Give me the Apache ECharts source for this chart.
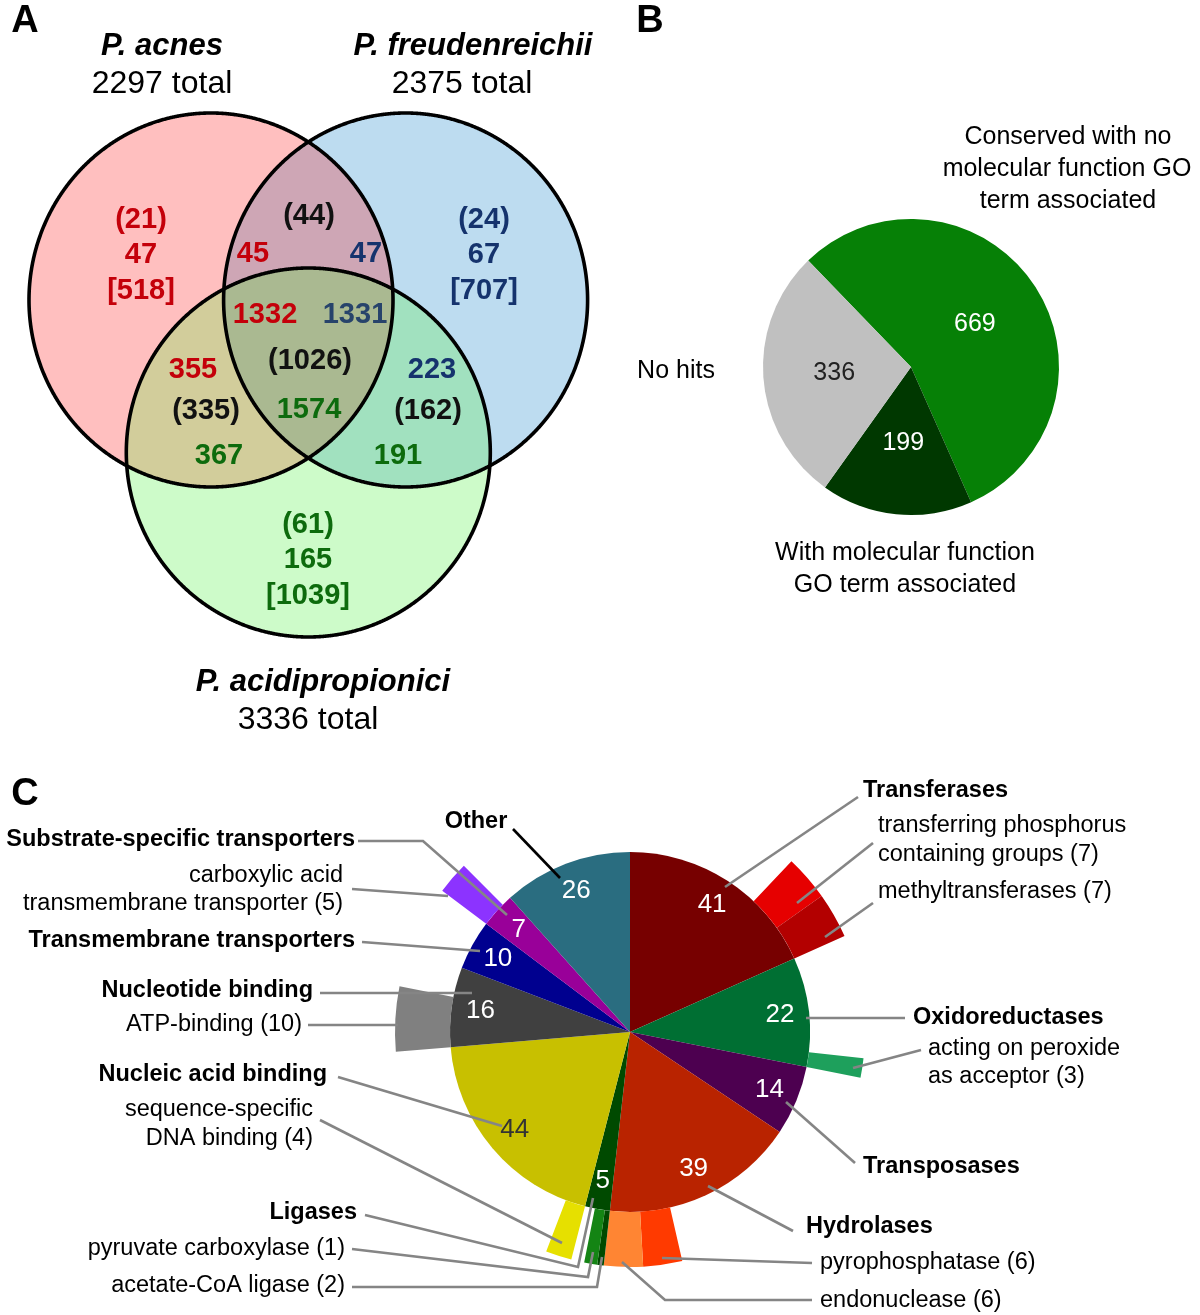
<!DOCTYPE html>
<html><head><meta charset="utf-8">
<script src="https://cdn.jsdelivr.net/npm/echarts@6/dist/echarts.min.js"></script>
<style>html,body{margin:0;padding:0;background:#fff}#c{width:1200px;height:1315px}</style>
</head><body><div id="c"></div>
<script>
// ===================== DATA =====================
// Panel A (Venn)
const vennSpecies = ['P. acnes', 'P. freudenreichii', 'P. acidipropionici'];
const vennTotals = [2297, 2375, 3336];
const onlyParen = [21, 24, 61];
const onlyCount = [47, 67, 165];
const onlyBracket = [518, 707, 1039];
// pairs: acnes∩freud, acnes∩acidi, freud∩acidi
const pairParen = [44, 335, 162];
const pairCountsAF = [45, 47];   // acnes, freud
const pairCountsAA = [355, 367]; // acnes, acidi
const pairCountsFA = [223, 191]; // freud, acidi
const coreParen = 1026;
const coreCounts = [1332, 1331, 1574]; // acnes, freud, acidi

// Panel B
const bCategories = ['Conserved with no molecular function GO term associated', 'With molecular function GO term associated', 'No hits'];
const bValues = [669, 199, 336];

// Panel C
const cCategories = ['Transferases', 'Oxidoreductases', 'Transposases', 'Hydrolases', 'Ligases',
  'Nucleic acid binding', 'Nucleotide binding', 'Transmembrane transporters', 'Substrate-specific transporters', 'Other'];
const cValues = [41, 22, 14, 39, 5, 44, 16, 10, 7, 26];
const subNames = ['transferring phosphorus containing groups', 'methyltransferases', 'acting on peroxide as acceptor',
  'pyrophosphatase', 'endonuclease', 'pyruvate carboxylase', 'acetate-CoA ligase',
  'sequence-specific DNA binding', 'ATP-binding', 'carboxylic acid transmembrane transporter'];
const subValues = [7, 7, 3, 6, 6, 1, 2, 4, 10, 5];
const subParents = ['Transferases', 'Transferases', 'Oxidoreductases', 'Hydrolases', 'Hydrolases', 'Ligases', 'Ligases',
  'Nucleic acid binding', 'Nucleotide binding', 'Substrate-specific transporters'];
const subAnchor = ['end', 'end', 'end', 'end', 'end', 'start', 'start', 'start', 'start', 'start'];

// ===================== STYLE / LAYOUT =====================
const FONT = '"Liberation Sans", Arial, Helvetica, sans-serif';
const RED = '#c4000a', NAVY = '#15336d', NAVY2 = '#27436b', GRN = '#0d6b0d', BLK = '#111';
const cColors = ['#770000', '#006f33', '#4d0050', '#b92300', '#004a00', '#c8c000', '#404040', '#00008f', '#990099', '#2a6d80'];
const cLabelColors = ['#fff', '#fff', '#fff', '#fff', '#fff', '#333', '#fff', '#fff', '#fff', '#fff'];
const subColors = ['#e60000', '#b30000', '#1ea05c', '#ff3a00', '#ff8533', '#004a00', '#148414', '#e6e000', '#808080', '#8c33ff'];
const bColors = ['#068006', '#003800', '#c0c0c0'];
const bLabelColors = ['#fff', '#fff', '#222'];

const ovals = [
  { x: 211, y: 300, rx: 182, ry: 187, fill: '#ffbfbf' },
  { x: 405.6, y: 300, rx: 182, ry: 187, fill: '#bddcf0' },
  { x: 308.3, y: 452.5, rx: 182, ry: 184.5, fill: '#cdfbc9' }
];
const lensFills = { '01': '#cea6b5', '02': '#d2cd9b', '12': '#a1e1bf', '012': '#aab991' };

function txt(x, y, text, size, o) {
  o = o || {};
  const al = o.align || 'center';
  return { type: 'text', x: x, y: y, silent: true, z: o.z || 50,
    style: { text: String(text), fill: o.color || '#000',
      font: (o.italic ? 'italic ' : '') + (o.bold ? 'bold ' : '') + size + 'px ' + FONT,
      textAlign: al, textVerticalAlign: 'middle', align: al, verticalAlign: 'middle' } };
}
function pline(points, color, width) {
  return { type: 'polyline', silent: true, z: 40, shape: { points: points },
    style: { stroke: color || '#858585', lineWidth: width || 2.6, fill: null } };
}
const N = 1440;
function ovalPt(e, t) { return [e.x + e.rx * Math.cos(t), e.y + e.ry * Math.sin(t)]; }
function inside(p, e) { const a = (p[0] - e.x) / e.rx, b = (p[1] - e.y) / e.ry; return a * a + b * b <= 1.0001; }
function ovalPolygon(e) { const pts = []; for (let k = 0; k < N; k++) pts.push(ovalPt(e, k / N * Math.PI * 2)); return pts; }
function intersectionPolygon(idx) {
  const es = idx.map(i => ovals[i]);
  const pts = [];
  es.forEach((e, ei) => {
    for (let k = 0; k < N; k++) {
      const p = ovalPt(e, k / N * Math.PI * 2);
      if (es.every((o, oi) => oi === ei || inside(p, o))) pts.push(p);
    }
  });
  const mx = pts.reduce((s, p) => s + p[0], 0) / pts.length;
  const my = pts.reduce((s, p) => s + p[1], 0) / pts.length;
  pts.sort((a, b) => Math.atan2(a[1] - my, a[0] - mx) - Math.atan2(b[1] - my, b[0] - mx));
  return pts;
}

const graphics = [];
// panel letters
graphics.push(txt(25, 22, 'A', 38, { bold: true }));
graphics.push(txt(650, 22, 'B', 38, { bold: true }));
graphics.push(txt(25, 795, 'C', 38, { bold: true }));

// ---- Venn ----
ovals.forEach(e => graphics.push({ type: 'polygon', silent: true, z: 1, shape: { points: ovalPolygon(e) }, style: { fill: e.fill } }));
Object.keys(lensFills).forEach(key => {
  const idx = key.split('').map(Number);
  graphics.push({ type: 'polygon', silent: true, z: idx.length, shape: { points: intersectionPolygon(idx) }, style: { fill: lensFills[key] } });
});
ovals.forEach(e => graphics.push({ type: 'polygon', silent: true, z: 5, shape: { points: ovalPolygon(e) }, style: { fill: null, stroke: '#000', lineWidth: 3.6 } }));

const titlePos = [[162, 46, 162, 84], [473, 46, 462, 84], [323, 682, 308, 720]];
vennSpecies.forEach((s, i) => {
  const p = titlePos[i];
  graphics.push(txt(p[0], p[1], s, 31, { bold: true, italic: true }));
  graphics.push(txt(p[2], p[3], vennTotals[i] + ' total', 32));
});
const onlyPos = [[141, 220], [484, 220], [308, 525]];
const onlyCol = [RED, NAVY, GRN];
onlyPos.forEach((p, i) => {
  graphics.push(txt(p[0], p[1], '(' + onlyParen[i] + ')', 29, { bold: true, color: onlyCol[i] }));
  graphics.push(txt(p[0], p[1] + 35, onlyCount[i], 29, { bold: true, color: onlyCol[i] }));
  graphics.push(txt(p[0], p[1] + 71, '[' + onlyBracket[i] + ']', 29, { bold: true, color: onlyCol[i] }));
});
graphics.push(txt(309, 216, '(' + pairParen[0] + ')', 29, { bold: true, color: BLK }));
graphics.push(txt(253, 254, pairCountsAF[0], 29, { bold: true, color: RED }));
graphics.push(txt(366, 254, pairCountsAF[1], 29, { bold: true, color: NAVY }));
graphics.push(txt(193, 370, pairCountsAA[0], 29, { bold: true, color: RED }));
graphics.push(txt(206, 411, '(' + pairParen[1] + ')', 29, { bold: true, color: BLK }));
graphics.push(txt(219, 456, pairCountsAA[1], 29, { bold: true, color: GRN }));
graphics.push(txt(432, 370, pairCountsFA[0], 29, { bold: true, color: NAVY }));
graphics.push(txt(428, 411, '(' + pairParen[2] + ')', 29, { bold: true, color: BLK }));
graphics.push(txt(398, 456, pairCountsFA[1], 29, { bold: true, color: GRN }));
graphics.push(txt(265, 315, coreCounts[0], 29, { bold: true, color: RED }));
graphics.push(txt(355, 315, coreCounts[1], 29, { bold: true, color: NAVY2 }));
graphics.push(txt(310, 361, '(' + coreParen + ')', 29, { bold: true, color: BLK }));
graphics.push(txt(309, 410, coreCounts[2], 29, { bold: true, color: GRN }));

// ---- Panel B category texts ----
graphics.push(txt(1068, 137, 'Conserved with no', 25));
graphics.push(txt(1067, 169, 'molecular function GO', 25));
graphics.push(txt(1068, 201, 'term associated', 25));
graphics.push(txt(676, 371, 'No hits', 25));
graphics.push(txt(905, 553, 'With molecular function', 25));
graphics.push(txt(905, 585, 'GO term associated', 25));

// ---- Panel C callouts ----
const callouts = [
  ['Other', 476, 822, 'center', true, [[513, 829], [560, 878]], '#000'],
  ['Substrate-specific transporters', 355, 840, 'right', true, [[358, 841], [423, 841], [507, 915]]],
  ['carboxylic acid', 343, 876, 'right', false, null],
  ['transmembrane transporter (5)', 343, 904, 'right', false, [[352, 889], [448, 896]]],
  ['Transmembrane transporters', 355, 941, 'right', true, [[362, 942], [480, 951]]],
  ['Nucleotide binding', 313, 991, 'right', true, [[320, 993], [472, 993]]],
  ['ATP-binding (10)', 302, 1025, 'right', false, [[308, 1025], [398, 1025]]],
  ['Nucleic acid binding', 327, 1075, 'right', true, [[338, 1077], [502, 1126]]],
  ['sequence-specific', 313, 1110, 'right', false, [[320, 1120], [562, 1243]]],
  ['DNA binding (4)', 313, 1139, 'right', false, null],
  ['Ligases', 357, 1213, 'right', true, [[365, 1215], [578, 1267], [593, 1198]]],
  ['pyruvate carboxylase (1)', 345, 1249, 'right', false, [[352, 1249], [588, 1277], [593, 1252]]],
  ['acetate-CoA ligase (2)', 345, 1286, 'right', false, [[352, 1287], [597, 1287], [602, 1257]]],
  ['Transferases', 863, 791, 'left', true, [[858, 797], [725, 887]]],
  ['transferring phosphorus', 878, 826, 'left', false, [[873, 843], [797, 903]]],
  ['containing groups (7)', 878, 855, 'left', false, null],
  ['methyltransferases (7)', 878, 892, 'left', false, [[873, 903], [825, 937]]],
  ['Oxidoreductases', 913, 1018, 'left', true, [[905, 1018], [806, 1018]]],
  ['acting on peroxide', 928, 1049, 'left', false, [[921, 1050], [853, 1068]]],
  ['as acceptor (3)', 928, 1077, 'left', false, null],
  ['Transposases', 863, 1167, 'left', true, [[855, 1163], [786, 1102]]],
  ['Hydrolases', 806, 1227, 'left', true, [[793, 1231], [708, 1186]]],
  ['pyrophosphatase (6)', 820, 1263, 'left', false, [[812, 1263], [662, 1258]]],
  ['endonuclease (6)', 820, 1301, 'left', false, [[812, 1300], [665, 1300], [622, 1262]]]
];
callouts.forEach(c => {
  graphics.push(txt(c[1], c[2], c[0], 23.5, { bold: c[4], align: c[3] }));
  if (c[5]) graphics.push(pline(c[5], c[6] || '#858585', 2.6));
});

// ===================== SERIES =====================
const C_CENTER = [630, 1032], C_R = 180, C_R2 = 235;

// outer ring of sub-categories, placed at the start/end of their parent slice
const subRing = [];
cCategories.forEach((cat, i) => {
  const ks = subParents.map((p, k) => p === cat ? k : -1).filter(k => k >= 0);
  const used = ks.reduce((s, k) => s + subValues[k], 0);
  const gap = { name: '', value: cValues[i] - used, itemStyle: { color: 'rgba(0,0,0,0)' } };
  const items = ks.map(k => ({ name: subNames[k], value: subValues[k], itemStyle: { color: subColors[k] } }));
  if (!ks.length) subRing.push(gap);
  else if (subAnchor[ks[0]] === 'end') { subRing.push(gap); items.forEach(it => subRing.push(it)); }
  else { items.forEach(it => subRing.push(it)); subRing.push(gap); }
});

const option = {
  animation: false,
  backgroundColor: '#fff',
  graphic: { elements: graphics },
  series: [
    {
      type: 'pie', silent: true, z: 2, center: [911, 367], radius: [0, 148], startAngle: 134, clockwise: true,
      avoidLabelOverlap: false, labelLine: { show: false },
      itemStyle: { borderWidth: 0 },
      label: { show: true, position: 'inside', formatter: '{c}', fontSize: 25, fontFamily: FONT },
      data: bCategories.map((n, i) => ({ name: n, value: bValues[i], itemStyle: { color: bColors[i] }, label: { color: bLabelColors[i] } }))
    },
    {
      type: 'pie', silent: true, z: 2, center: C_CENTER, radius: [0, C_R], startAngle: 90, clockwise: true,
      avoidLabelOverlap: false, label: { show: false }, labelLine: { show: false },
      itemStyle: { borderWidth: 0 },
      data: cCategories.map((n, i) => ({ name: n, value: cValues[i], itemStyle: { color: cColors[i] } }))
    },
    {
      type: 'pie', silent: true, z: 2, center: C_CENTER, radius: [C_R, C_R2], startAngle: 90, clockwise: true,
      avoidLabelOverlap: false, label: { show: false }, labelLine: { show: false },
      itemStyle: { borderWidth: 0 },
      data: subRing
    },
    {
      type: 'pie', silent: true, z: 3, center: C_CENTER, radius: [116, C_R], startAngle: 90, clockwise: true,
      avoidLabelOverlap: false, labelLine: { show: false },
      itemStyle: { color: 'rgba(0,0,0,0)', borderWidth: 0 },
      label: { show: true, position: 'inside', formatter: '{c}', fontSize: 26, fontFamily: FONT, rotate: 0 },
      data: cCategories.map((n, i) => ({ name: n, value: cValues[i], label: { color: cLabelColors[i] } }))
    }
  ]
};
const chart = echarts.init(document.getElementById('c'), null, { renderer: 'canvas' });
chart.setOption(option);
</script></body></html>
